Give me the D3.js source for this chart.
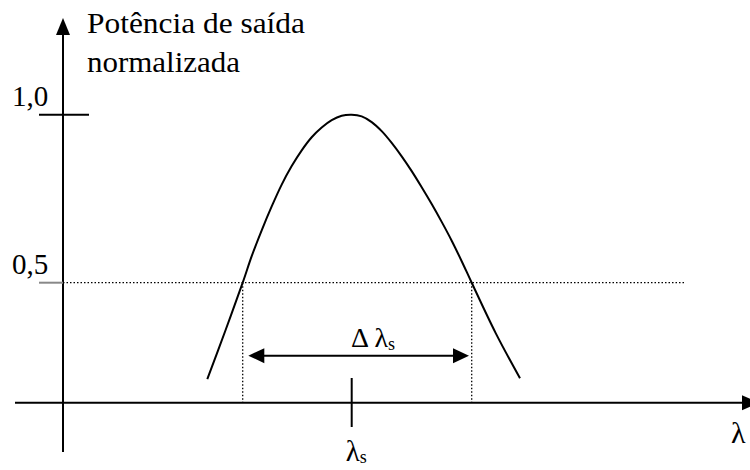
<!DOCTYPE html>
<html>
<head>
<meta charset="utf-8">
<script src="https://cdn.jsdelivr.net/npm/d3@7"></script>
<style>
  html, body { margin: 0; padding: 0; background: #fff; }
  svg { display: block; }
</style>
</head>
<body>
<svg id="chart" width="750" height="470"></svg>
<script>
// ---- Data (relative wavelength u = (λ-λs) in arbitrary units, normalized output power v) ----
const curveU = [-1.444, -1.26, -1.09, -1.0, -0.9, -0.8, -0.7, -0.6, -0.5, -0.4, -0.3, -0.2, -0.1, 0,
                0.1, 0.2, 0.3, 0.4, 0.5, 0.6, 0.7, 0.8, 0.9, 1.0, 1.1, 1.2, 1.44, 1.683];
const curveV = [0.098, 0.304, 0.5, 0.579, 0.656, 0.727, 0.792, 0.847, 0.894, 0.933, 0.962, 0.984, 0.997, 1.0,
                0.995, 0.978, 0.951, 0.916, 0.876, 0.832, 0.784, 0.734, 0.681, 0.625, 0.564, 0.5, 0.29, 0.102];
const yTickValues = [1.0, 0.5];
const yTickLabels = ["1,0", "0,5"];
const halfPowerLevel = 0.5;
const halfPowerU = [-1.09, 1.2];
const centerU = 0;
const arrowLevel = 0.196;
const yAxisTitle = ["Potência de saída", "normalizada"];
const xAxisTitle = "λ";
const centerLabel = ["λ", "s"];
const widthLabel = ["Δ λ", "s"];

const FONT = "'Liberation Serif', 'DejaVu Serif', 'Times New Roman', Times, serif";

// ---- Scales ----
const svg = d3.select("#chart");
const x = d3.scaleLinear().domain([-3, 4]).range([51.7, 751.7]);
const y = d3.scaleLinear().domain([0, 0.5, 1]).range([402.7, 282.7, 114.7]);

const axisX0 = 63;         // y-axis position (px)
const axisY0 = y(0);       // x-axis position (px)

// ---- Axes ----
svg.append("line").attr("x1", 15).attr("x2", 745).attr("y1", axisY0).attr("y2", axisY0)
  .attr("stroke", "#000").attr("stroke-width", 2);
svg.append("path").attr("d", `M742,${axisY0-7.5} L759,${axisY0} L742,${axisY0+7.5} Z`).attr("fill", "#000");
svg.append("line").attr("x1", axisX0).attr("x2", axisX0).attr("y1", 452).attr("y2", 30)
  .attr("stroke", "#000").attr("stroke-width", 2);
svg.append("path").attr("d", `M${axisX0-7},35 L${axisX0},18 L${axisX0+7},35 Z`).attr("fill", "#000");

// y ticks
yTickValues.forEach((v, i) => {
  const full = v === 1.0;
  svg.append("line").attr("x1", 39).attr("x2", full ? 89 : axisX0)
    .attr("y1", y(v)).attr("y2", y(v))
    .attr("stroke", full ? "#000" : "#888").attr("stroke-width", 2);
  svg.append("text").attr("x", 12).attr("y", y(v) - (full ? 9 : 8.5))
    .attr("font-family", FONT).attr("font-size", 29).text(yTickLabels[i]);
});

// half-power dotted line
svg.append("line").attr("x1", axisX0).attr("x2", 685)
  .attr("y1", y(halfPowerLevel)).attr("y2", y(halfPowerLevel))
  .attr("stroke", "#000").attr("stroke-width", 1.3).attr("stroke-dasharray", "1.5,2");
halfPowerU.forEach(u => {
  svg.append("line").attr("x1", x(u)).attr("x2", x(u))
    .attr("y1", y(halfPowerLevel)).attr("y2", axisY0)
    .attr("stroke", "#000").attr("stroke-width", 1.3).attr("stroke-dasharray", "1.5,2");
});

// curve
const pts = curveU.map((u, i) => [u, curveV[i]]);
svg.append("path").datum(pts)
  .attr("d", d3.line().x(d => x(d[0])).y(d => y(d[1])).curve(d3.curveCatmullRom.alpha(0.5)))
  .attr("fill", "none").attr("stroke", "#000").attr("stroke-width", 2);

// width arrow
const ay = y(arrowLevel);
const lt = x(halfPowerU[0]) + 5.6, rt = x(halfPowerU[1]) - 2.7;
svg.append("line").attr("x1", lt + 10).attr("x2", rt - 10).attr("y1", ay).attr("y2", ay)
  .attr("stroke", "#000").attr("stroke-width", 2);
svg.append("path").attr("d", `M${lt},${ay} L${lt+16},${ay-7.5} L${lt+16},${ay+7.5} Z`).attr("fill", "#000");
svg.append("path").attr("d", `M${rt},${ay} L${rt-16},${ay-7.5} L${rt-16},${ay+7.5} Z`).attr("fill", "#000");

// center tick
svg.append("line").attr("x1", x(centerU)).attr("x2", x(centerU)).attr("y1", 378).attr("y2", 427)
  .attr("stroke", "#000").attr("stroke-width", 2);

// ---- Labels ----
svg.append("text").attr("x", 87).attr("y", 33).attr("font-family", FONT).attr("font-size", 29)
  .attr("textLength", 218).attr("lengthAdjust", "spacingAndGlyphs").text(yAxisTitle[0]);
svg.append("text").attr("x", 87).attr("y", 71.5).attr("font-family", FONT).attr("font-size", 29)
  .attr("textLength", 153).attr("lengthAdjust", "spacingAndGlyphs").text(yAxisTitle[1]);

svg.append("text").attr("x", 731).attr("y", 443).attr("font-family", FONT).attr("font-size", 30).text(xAxisTitle);

const cl = svg.append("text").attr("x", x(centerU) - 6).attr("y", 461).attr("font-family", FONT).attr("font-size", 29);
cl.append("tspan").text(centerLabel[0]);
cl.append("tspan").attr("font-size", 18).attr("dy", 2).text(centerLabel[1]);

const wl = svg.append("text").attr("x", 351).attr("y", 347).attr("font-family", FONT).attr("font-size", 28);
wl.append("tspan").text(widthLabel[0]);
wl.append("tspan").attr("font-size", 18).attr("dy", 3).text(widthLabel[1]);
</script>
</body>
</html>
